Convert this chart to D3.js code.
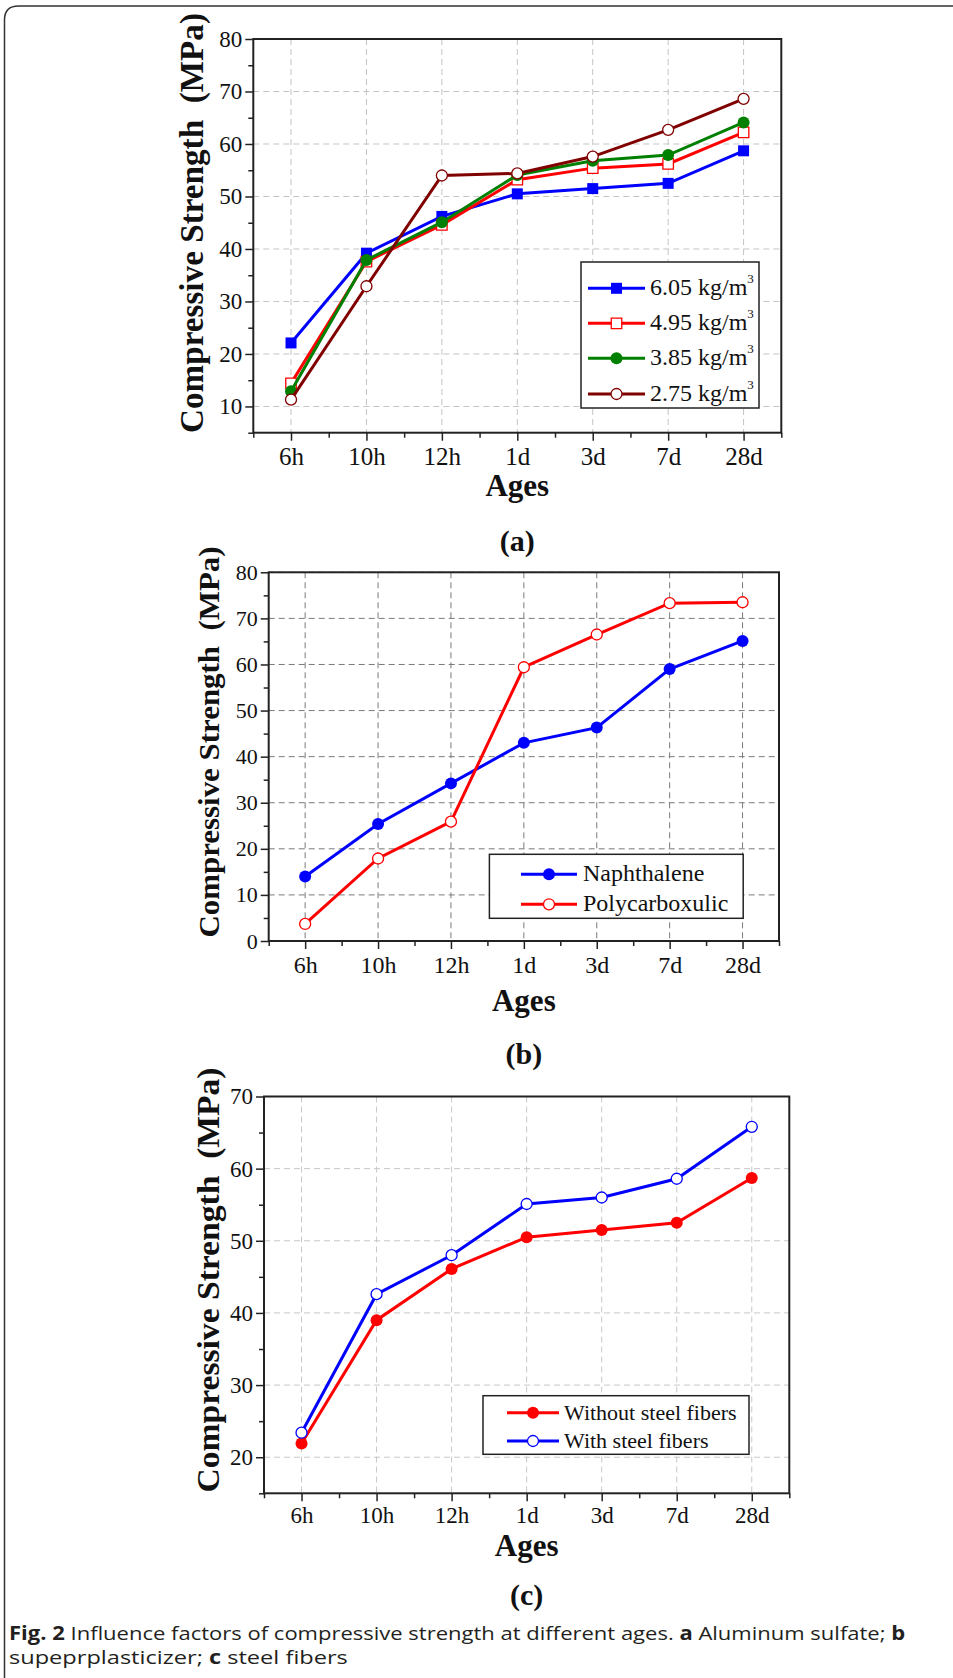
<!DOCTYPE html>
<html>
<head>
<meta charset="utf-8">
<script src="https://cdn.jsdelivr.net/npm/d3@7"></script>
<style>
  body { margin: 0; background: #fff; }
</style>
</head>
<body>
<div id="fig"></div>
<script>
// ages on the x axis
const ages = ["6h", "10h", "12h", "1d", "3d", "7d", "28d"];

// (a) aluminum sulfate dosage
const alum605 = [22.1, 39.2, 46.2, 50.5, 51.5, 52.5, 58.7];
const alum495 = [14.4, 37.6, 44.6, 53.2, 55.4, 56.2, 62.2];
const alum385 = [12.9, 37.9, 45.1, 54.1, 56.8, 57.9, 64.1];
const alum275 = [11.3, 32.9, 54.0, 54.4, 57.6, 62.7, 68.6];

// (b) superplasticizer type
const naphthalene = [14.0, 25.4, 34.2, 43.0, 46.3, 59.0, 65.1];
const polycarboxulic = [3.7, 17.9, 25.9, 59.4, 66.5, 73.3, 73.5];

// (c) steel fibers
const withoutFibers = [21.9, 39.0, 46.1, 50.5, 51.5, 52.5, 58.7];
const withFibers = [23.4, 42.6, 48.0, 55.1, 56.0, 58.6, 65.8];

// y ticks
const ticksA = [10, 20, 30, 40, 50, 60, 70, 80];
const ticksB = [0, 10, 20, 30, 40, 50, 60, 70, 80];
const ticksC = [20, 30, 40, 50, 60, 70];

const serif = "'Liberation Serif', 'Times New Roman', serif";
const width = 953, height = 1678;

const svg = d3.select("#fig").append("svg")
    .attr("width", width)
    .attr("height", height)
    .style("display", "block");

// page frame (left + top with round corner)
svg.append("path")
    .attr("d", "M4.5,1678 V20 Q4.5,6 18.5,6 H953")
    .attr("fill", "none")
    .attr("stroke", "#333")
    .attr("stroke-width", 1.5);

function drawPanel(p) {
    const x = d3.scalePoint().domain(ages).range([p.left, p.right]).padding(0.5);
    const xMinor = d3.scaleLinear().domain([-0.5, ages.length - 0.5]).range([p.left, p.right]);
    const y = d3.scaleLinear().domain(p.yDomain).range([p.bottom, p.top]);

    const g = svg.append("g");

    // grid
    g.append("g")
        .selectAll("line")
        .data(p.yTicks)
        .join("line")
        .attr("x1", p.left).attr("x2", p.right)
        .attr("y1", d => y(d)).attr("y2", d => y(d))
        .attr("stroke", p.gridColor)
        .attr("stroke-width", 1)
        .attr("stroke-dasharray", "6,4");

    g.append("g")
        .selectAll("line")
        .data(ages)
        .join("line")
        .attr("x1", d => x(d)).attr("x2", d => x(d))
        .attr("y1", p.top).attr("y2", p.bottom)
        .attr("stroke", p.gridColor)
        .attr("stroke-width", 1)
        .attr("stroke-dasharray", "6,4");

    // x axis, major + minor ticks
    const xAxis = g.append("g")
        .attr("transform", `translate(0,${p.bottom})`)
        .call(d3.axisBottom(x).tickSize(8).tickSizeOuter(0).tickPadding(p.xPad));
    xAxis.select(".domain").remove();
    xAxis.selectAll("line").attr("stroke", "#222").attr("stroke-width", 1.5);
    xAxis.selectAll("text")
        .attr("font-family", serif)
        .attr("font-size", p.xFont)
        .attr("fill", "#111");

    const xMinorAxis = g.append("g")
        .attr("transform", `translate(0,${p.bottom})`)
        .call(d3.axisBottom(xMinor).tickValues(d3.range(-0.5, ages.length, 1)).tickSize(5).tickFormat(""));
    xMinorAxis.select(".domain").remove();
    xMinorAxis.selectAll("line").attr("stroke", "#222").attr("stroke-width", 1.5);

    // y axis, major + minor ticks
    const yAxis = g.append("g")
        .attr("transform", `translate(${p.left},0)`)
        .call(d3.axisLeft(y).tickValues(p.yTicks).tickSize(8).tickSizeOuter(0).tickPadding(3));
    yAxis.select(".domain").remove();
    yAxis.selectAll("line").attr("stroke", "#222").attr("stroke-width", 1.5);
    yAxis.selectAll("text")
        .attr("font-family", serif)
        .attr("font-size", p.yFont)
        .attr("fill", "#111");

    const minors = d3.range(p.yDomain[0], p.yDomain[1] + 0.01, 5).filter(v => !p.yTicks.includes(v));
    const yMinorAxis = g.append("g")
        .attr("transform", `translate(${p.left},0)`)
        .call(d3.axisLeft(y).tickValues(minors).tickSize(5).tickFormat(""));
    yMinorAxis.select(".domain").remove();
    yMinorAxis.selectAll("line").attr("stroke", "#222").attr("stroke-width", 1.5);

    // frame
    g.append("rect")
        .attr("x", p.left).attr("y", p.top)
        .attr("width", p.right - p.left).attr("height", p.bottom - p.top)
        .attr("fill", "none")
        .attr("stroke", "#222")
        .attr("stroke-width", 2);

    // series
    const line = d3.line()
        .x((d, i) => x(ages[i]))
        .y(d => y(d));

    p.series.forEach(s => {
        g.append("path")
            .datum(s.values)
            .attr("d", line)
            .attr("fill", "none")
            .attr("stroke", s.color)
            .attr("stroke-width", 3);

        g.append("g")
            .selectAll("path")
            .data(s.values)
            .join("path")
            .attr("transform", (d, i) => `translate(${x(ages[i])},${y(d)})`)
            .call(marker, s);
    });

    // legend
    const lg = g.append("g");
    lg.append("rect")
        .attr("x", p.legend.x).attr("y", p.legend.y)
        .attr("width", p.legend.w).attr("height", p.legend.h)
        .attr("fill", "#fff")
        .attr("stroke", "#222")
        .attr("stroke-width", 1.5);

    p.series.forEach((s, i) => {
        const ry = p.legend.rows[i];
        lg.append("line")
            .attr("x1", p.legend.lx1).attr("x2", p.legend.lx2)
            .attr("y1", ry).attr("y2", ry)
            .attr("stroke", s.color)
            .attr("stroke-width", 3);
        lg.append("path")
            .attr("transform", `translate(${(p.legend.lx1 + p.legend.lx2) / 2},${ry})`)
            .call(marker, s);
        const t = lg.append("text")
            .attr("x", p.legend.tx)
            .attr("y", ry + 7)
            .attr("font-family", serif)
            .attr("font-size", p.legend.font)
            .attr("fill", "#111")
            .text(s.name);
        if (s.sup) {
            t.append("tspan")
                .attr("dy", -12)
                .attr("font-size", 13)
                .text(s.sup);
        }
    });

    // axis titles
    g.append("text")
        .attr("transform", `translate(${p.titleX},${p.titleY}) rotate(-90)`)
        .attr("text-anchor", "middle")
        .attr("font-family", serif)
        .attr("font-weight", "bold")
        .attr("font-size", p.titleFont)
        .attr("textLength", p.titleLen)
        .attr("lengthAdjust", "spacingAndGlyphs")
        .style("white-space", "pre")
        .attr("fill", "#111")
        .text("Compressive Strength  (MPa)");

    g.append("text")
        .attr("x", (p.left + p.right) / 2)
        .attr("y", p.agesY)
        .attr("text-anchor", "middle")
        .attr("font-family", serif)
        .attr("font-weight", "bold")
        .attr("font-size", 31)
        .attr("fill", "#111")
        .text("Ages");

    g.append("text")
        .attr("x", (p.left + p.right) / 2)
        .attr("y", p.tagY)
        .attr("text-anchor", "middle")
        .attr("font-family", serif)
        .attr("font-weight", "bold")
        .attr("font-size", 30)
        .attr("fill", "#111")
        .text(p.tag);
}

function marker(sel, s) {
    const sym = s.shape === "square" ? d3.symbolSquare : d3.symbolCircle;
    const area = s.shape === "square" ? s.size * s.size : Math.PI * s.size * s.size / 4;
    sel.attr("d", d3.symbol().type(sym).size(area)())
        .attr("fill", s.open ? "#fff" : s.color)
        .attr("stroke", s.color)
        .attr("stroke-width", s.open ? 1.3 : 0);
}

drawPanel({
    left: 253.3, right: 781.3, top: 39, bottom: 432.7,
    yDomain: [5, 80], yTicks: ticksA,
    gridColor: "#c4c4c4", xFont: 25, xPad: 7, yFont: 23,
    titleX: 203, titleY: 223, titleLen: 420, titleFont: 34,
    agesY: 496, tagY: 551, tag: "(a)",
    series: [
        { name: "6.05 kg/m", sup: "3", values: alum605, color: "#0000ff", shape: "square", open: false, size: 11 },
        { name: "4.95 kg/m", sup: "3", values: alum495, color: "#ff0000", shape: "square", open: true, size: 10.5 },
        { name: "3.85 kg/m", sup: "3", values: alum385, color: "#008000", shape: "circle", open: false, size: 12 },
        { name: "2.75 kg/m", sup: "3", values: alum275, color: "#800000", shape: "circle", open: true, size: 11 }
    ],
    legend: { x: 581, y: 262, w: 178, h: 146, rows: [288.3, 323.3, 358.3, 394], lx1: 588, lx2: 645, tx: 650, font: 24 }
});

drawPanel({
    left: 268.7, right: 779, top: 572.3, bottom: 941,
    yDomain: [0, 80], yTicks: ticksB,
    gridColor: "#7a7a7a", xFont: 24, xPad: 7, yFont: 22,
    titleX: 219, titleY: 742, titleLen: 391, titleFont: 30,
    agesY: 1011, tagY: 1064, tag: "(b)",
    series: [
        { name: "Naphthalene", values: naphthalene, color: "#0000ff", shape: "circle", open: false, size: 12 },
        { name: "Polycarboxulic", values: polycarboxulic, color: "#ff0000", shape: "circle", open: true, size: 11 }
    ],
    legend: { x: 489.4, y: 854.3, w: 253.8, h: 64, rows: [874.3, 904.3], lx1: 521, lx2: 577, tx: 583, font: 24 }
});

drawPanel({
    left: 264, right: 789.3, top: 1096.5, bottom: 1493.3,
    yDomain: [15, 70], yTicks: ticksC,
    gridColor: "#c8c8c8", xFont: 23, xPad: 5, yFont: 23,
    titleX: 218.5, titleY: 1280, titleLen: 425, titleFont: 32,
    agesY: 1556, tagY: 1605, tag: "(c)",
    series: [
        { name: "Without steel fibers", values: withoutFibers, color: "#ff0000", shape: "circle", open: false, size: 12 },
        { name: "With steel fibers", values: withFibers, color: "#0000ff", shape: "circle", open: true, size: 11 }
    ],
    legend: { x: 483, y: 1395.7, w: 266, h: 58.6, rows: [1412.7, 1441], lx1: 507, lx2: 559, tx: 564, font: 22 }
});

// figure caption
const cap = svg.append("g")
    .attr("font-family", "'Open Sans', sans-serif")
    .attr("font-size", 19)
    .attr("fill", "#231f20");

const cap1 = cap.append("text").attr("x", 0).attr("y", 0);
cap1.append("tspan").attr("font-weight", "bold").text("Fig. 2");
cap1.append("tspan").text(" Influence factors of compressive strength at different ages. ");
cap1.append("tspan").attr("font-weight", "bold").text("a");
cap1.append("tspan").text(" Aluminum sulfate; ");
cap1.append("tspan").attr("font-weight", "bold").text("b");

const cap2 = cap.append("text").attr("x", 0).attr("y", 0);
cap2.append("tspan").text("supeprplasticizer; ");
cap2.append("tspan").attr("font-weight", "bold").text("c");
cap2.append("tspan").text(" steel fibers");

// each caption line stretched to the width it has in the figure
const sx1 = 897 / cap1.node().getComputedTextLength();
const sx2 = 339 / cap2.node().getComputedTextLength();
cap1.attr("transform", `translate(9,1640) scale(${sx1},1)`);
cap2.attr("transform", `translate(9,1664) scale(${sx2},1)`);
</script>
</body>
</html>
